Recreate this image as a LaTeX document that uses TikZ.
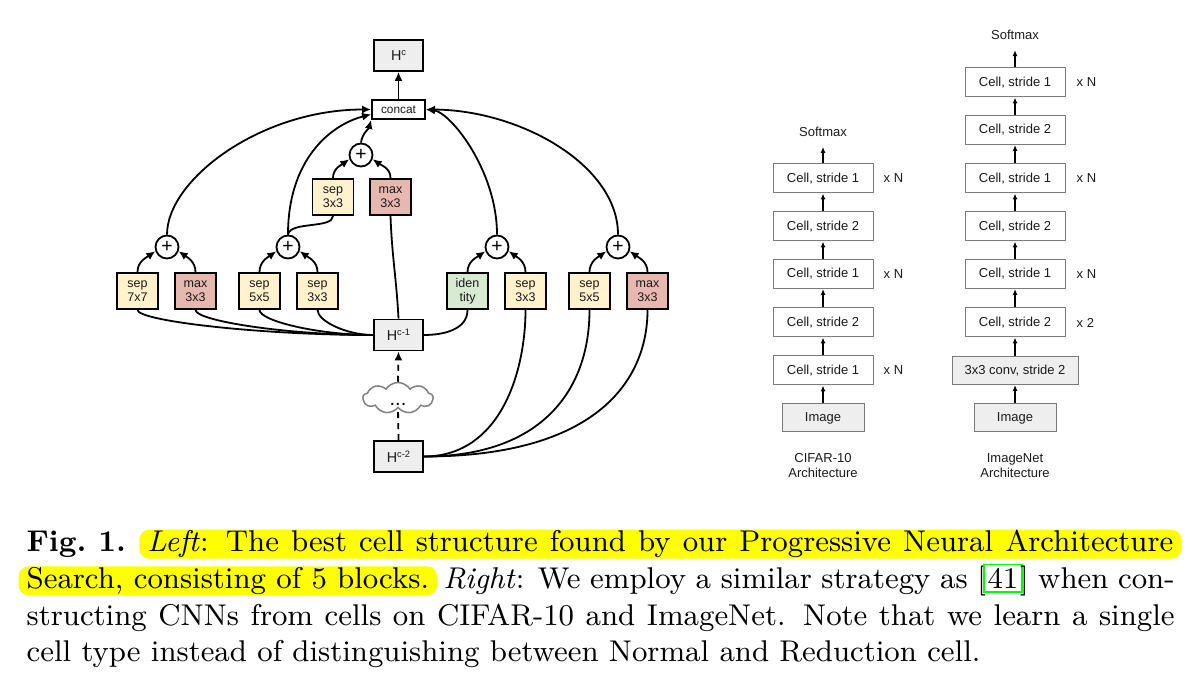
\documentclass[tikz,border=0pt]{standalone}
\usepackage{fontspec}
\newfontfamily\arialf{Liberation Sans}
\usetikzlibrary{arrows.meta,shapes.symbols,calc}
\definecolor{sepc}{HTML}{FFF2CC}
\definecolor{maxc}{HTML}{E6B8AF}
\definecolor{idc}{HTML}{D9EAD3}
\definecolor{hc}{HTML}{EEEEEE}
\definecolor{txt}{HTML}{1A1A1A}
\definecolor{cellgray}{HTML}{7A7A7A}
\definecolor{cloudgray}{HTML}{808080}
\definecolor{hlyellow}{RGB}{255,255,0}
\definecolor{linkgreen}{RGB}{0,255,0}
\newcommand\opfont{\arialf\fontsize{3.75}{4.1}\selectfont}
\newcommand\confont{\arialf\fontsize{3.55}{4}\selectfont}
\newcommand\hfont{\arialf\fontsize{4.3}{5}\selectfont}
\newcommand\plusfont{\arialf\fontsize{5.8}{6}\selectfont}
\newcommand\rfont{\arialf\fontsize{3.9}{4.5}\selectfont}
\newcommand\hsup[1]{\raisebox{1.5pt}{\fontsize{2.8}{3}\selectfont #1}}
\newcommand\gbox[1]{{\setlength\fboxsep{0.8pt}\setlength\fboxrule{0.5pt}\kern-0.8pt\fcolorbox{linkgreen}{white}{#1}\kern-0.8pt}}
\begin{document}
\begin{tikzpicture}[x=0.3pt,y=0.3pt,
  lw/.style={line width=0.54pt},
  op/.style={draw, lw, minimum width=12.3pt, minimum height=10.8pt, inner sep=0, align=center, font=\opfont, text=txt},
  sepb/.style={op, fill=sepc},
  maxb/.style={op, fill=maxc},
  idb/.style={op, fill=idc},
  hb/.style={draw, lw, fill=hc, minimum width=14.7pt, minimum height=9.3pt, inner sep=0, font=\hfont, text=txt},
  addb/.style={circle, draw, lw, fill=white, minimum size=6.9pt, inner sep=0, font=\plusfont},
  conb/.style={draw, lw, fill=white, minimum width=15.9pt, minimum height=5.7pt, inner sep=0, font=\confont, text=txt},
  arr/.style={lw, -{Latex[length=2.7pt,width=2.4pt]}},
  ln/.style={lw},
  dashln/.style={lw, dash pattern=on 1.8pt off 1.5pt},
  cell/.style={draw=cellgray, line width=0.3pt, fill=white, minimum width=30pt, minimum height=8.7pt, inner sep=0, font=\rfont, text=txt},
  cellg/.style={cell, fill=hc, minimum height=8.4pt},
  rarr/.style={line width=0.36pt, -{Latex[length=1.8pt,width=1.5pt]}},
  rlab/.style={font=\rfont, text=txt, inner sep=0},
  capt/.style={inner sep=0, font=\fontsize{9}{11}\selectfont, anchor=base west},
  hl/.style={fill=hlyellow, rounded corners=3pt, inner xsep=2.4pt, inner ysep=0, text height=6.6pt, text depth=2.1pt}
]
\useasboundingbox (0,0) rectangle (1196,-677);

% ---------------- left: cell ----------------
\node[hb] (hc) at (398.5,-55.5) {H\hsup{c}};
\node[conb] (concat) at (398.5,-109.5) {concat};
\node[addb] (pu) at (361,-155) {+};
\node[sepb] (s33u) at (333,-197) {sep\\3x3};
\node[maxb] (m33u) at (390.5,-197) {max\\3x3};

\node[addb] (p1) at (167,-247) {+};
\node[addb] (p2) at (288,-247) {+};
\node[addb] (p3) at (497,-247) {+};
\node[addb] (p4) at (618,-247) {+};

\node[sepb] (s77) at (137.5,-291) {sep\\7x7};
\node[maxb] (m33a) at (195.5,-291) {max\\3x3};
\node[sepb] (s55a) at (259.5,-291) {sep\\5x5};
\node[sepb] (s33a) at (317.5,-291) {sep\\3x3};
\node[idb] (id) at (467.5,-291) {iden\\tity};
\node[sepb] (s33b) at (525.5,-291) {sep\\3x3};
\node[sepb] (s55b) at (589.5,-291) {sep\\5x5};
\node[maxb] (m33b) at (647.5,-291) {max\\3x3};

\node[hb] (h1) at (398.5,-335) {H\hsup{c-1}};
\node[cloud, cloud puffs=9, cloud puff arc=115, aspect=2.3, draw=cloudgray, line width=0.45pt,
      minimum width=21pt, minimum height=9.3pt, inner sep=0, text height=4.4pt, text depth=0pt,
      font=\arialf\fontsize{6}{6}\selectfont] (cl) at (398,-398) {...};
\node[hb] (h2) at (398.5,-456.5) {H\hsup{c-2}};

% outputs
\draw[arr] (concat.north) -- (hc.south);
\draw[arr] (p1.north) .. controls (167,-180) and (260,-109.5) .. (concat.west);
\draw[arr] (p2.north) .. controls (288,-160) and (330,-125) .. (concat.190);
\draw[arr] (pu.north) to[out=82,in=-105] (concat.south west);
\draw[arr] (p3.north) .. controls (497,-170) and (450,-112) .. (concat.east);
\draw[arr] (p4.north) .. controls (618,-165) and (520,-110) .. (concat.east);

% inputs to adds
\draw[arr] (s77.north) to[out=90,in=-145] (p1.200);
\draw[arr] (m33a.north) to[out=90,in=-35] (p1.-20);
\draw[arr] (s55a.north) to[out=90,in=-145] (p2.200);
\draw[arr] (s33a.north) to[out=90,in=-35] (p2.-20);
\draw[arr] (id.north) to[out=90,in=-145] (p3.200);
\draw[arr] (s33b.north) to[out=90,in=-35] (p3.-20);
\draw[arr] (s55b.north) to[out=90,in=-145] (p4.200);
\draw[arr] (m33b.north) to[out=90,in=-35] (p4.-20);
\draw[arr] (s33u.north) to[out=90,in=-145] (pu.200);
\draw[arr] (m33u.north) to[out=90,in=-35] (pu.-20);

\draw[ln] (p2.north) .. controls +(2,13.5) and +(0,-13) .. (s33u.south);

% from H^{c-1}
\draw[ln] (h1.west) .. controls +(-114,0) and +(0,-11) .. (s77.south);
\draw[ln] (h1.west) .. controls +(-86,0) and +(0,-11) .. (m33a.south);
\draw[ln] (h1.west) .. controls +(-55,0) and +(0,-11) .. (s55a.south);
\draw[ln] (h1.west) .. controls +(-27,0) and +(0,-11) .. (s33a.south);
\draw[ln] (h1.east) to[out=0,in=-90] (id.south);
\draw[ln] (h1.north) to[out=93,in=-88] (m33u.south);

% from H^{c-2}
\draw[ln] (h2.east) .. controls +(77,0) and +(0,-61) .. (s33b.south);
\draw[ln] (h2.east) .. controls +(117,0) and +(0,-81) .. (s55b.south);
\draw[ln] (h2.east) .. controls +(172,0) and +(0,-71) .. (m33b.south);

\draw[dashln] (h2.north) -- (cl.south);
\draw[dashln, -{Latex[length=2.7pt,width=2.4pt]}] (cl.north) -- (h1.south);

% ---------------- right: CIFAR-10 ----------------
\node[cellg, minimum width=24.6pt] (aimg) at (823,-418) {Image};
\node[cell] (a1) at (823,-370.5) {Cell, stride 1};
\node[cell] (a2) at (823,-322.5) {Cell, stride 2};
\node[cell] (a3) at (823,-274) {Cell, stride 1};
\node[cell] (a4) at (823,-226.5) {Cell, stride 2};
\node[cell] (a5) at (823,-178.5) {Cell, stride 1};
\node[rlab, minimum height=8.7pt] (asm) at (823,-131.7) {Softmax};
\draw[rarr] (aimg.north) -- (a1.south);
\draw[rarr] (a1.north) -- (a2.south);
\draw[rarr] (a2.north) -- (a3.south);
\draw[rarr] (a3.north) -- (a4.south);
\draw[rarr] (a4.north) -- (a5.south);
\draw[rarr] (a5.north) -- (asm.south);
\node[rlab, anchor=west] (axn1) at (883,-370.5) {x N};
\node[rlab, anchor=west] (axn2) at (883,-274) {x N};
\node[rlab, anchor=west] (axn3) at (883,-178.5) {x N};
\node[rlab, align=center, font=\arialf\fontsize{3.9}{4.5}\selectfont] (acap) at (823,-465.5) {CIFAR-10\\Architecture};

% ---------------- right: ImageNet ----------------
\node[cellg, minimum width=24.6pt] (bimg) at (1015,-418) {Image};
\node[cellg, minimum width=37.8pt] (bconv) at (1015,-370.5) {3x3 conv, stride 2};
\node[cell] (b1) at (1015,-322.5) {Cell, stride 2};
\node[cell] (b2) at (1015,-274) {Cell, stride 1};
\node[cell] (b3) at (1015,-226.5) {Cell, stride 2};
\node[cell] (b4) at (1015,-178.5) {Cell, stride 1};
\node[cell] (b5) at (1015,-130) {Cell, stride 2};
\node[cell] (b6) at (1015,-82.5) {Cell, stride 1};
\node[rlab, minimum height=8.7pt] (bsm) at (1015,-35) {Softmax};
\draw[rarr] (bimg.north) -- (bconv.south);
\draw[rarr] (bconv.north) -- (b1.south);
\draw[rarr] (b1.north) -- (b2.south);
\draw[rarr] (b2.north) -- (b3.south);
\draw[rarr] (b3.north) -- (b4.south);
\draw[rarr] (b4.north) -- (b5.south);
\draw[rarr] (b5.north) -- (b6.south);
\draw[rarr] (b6.north) -- (bsm.south);
\node[rlab, anchor=west] (bx2) at (1076,-322.5) {x 2};
\node[rlab, anchor=west] (bxn1) at (1076,-274) {x N};
\node[rlab, anchor=west] (bxn2) at (1076,-178.5) {x N};
\node[rlab, anchor=west] (bxn3) at (1076,-82.5) {x N};
\node[rlab, align=center, font=\arialf\fontsize{3.9}{4.5}\selectfont] (bcap) at (1015,-465.5) {ImageNet\\Architecture};

% ---------------- caption ----------------
\node[capt] (fig) at (26,-551.7) {\textbf{Fig.\ 1.}};
\node[capt, hl, anchor=base east] (l1) at (1182,-551.7) {\makebox[307.8pt][s]{\textit{Left}: The best cell structure found by our Progressive Neural Architecture}};
\node[capt, hl] (l2a) at (18,-588.3) {Search, consisting of 5 blocks.};
\path let \p1=(l2a.base east) in node[capt] (l2b) at (\x1+1.5pt,\y1) {\makebox[\dimexpr 352.2pt-\x1-1.5pt\relax][s]{\textit{Right}: We employ a similar strategy as [\gbox{41}] when con-}};
\node[capt] (l3) at (26,-625) {\makebox[344.4pt][s]{structing CNNs from cells on CIFAR-10 and ImageNet. Note that we learn a single}};
\node[capt] (l4) at (26,-661.7) {cell type instead of distinguishing between Normal and Reduction cell.};
\end{tikzpicture}
\end{document}
